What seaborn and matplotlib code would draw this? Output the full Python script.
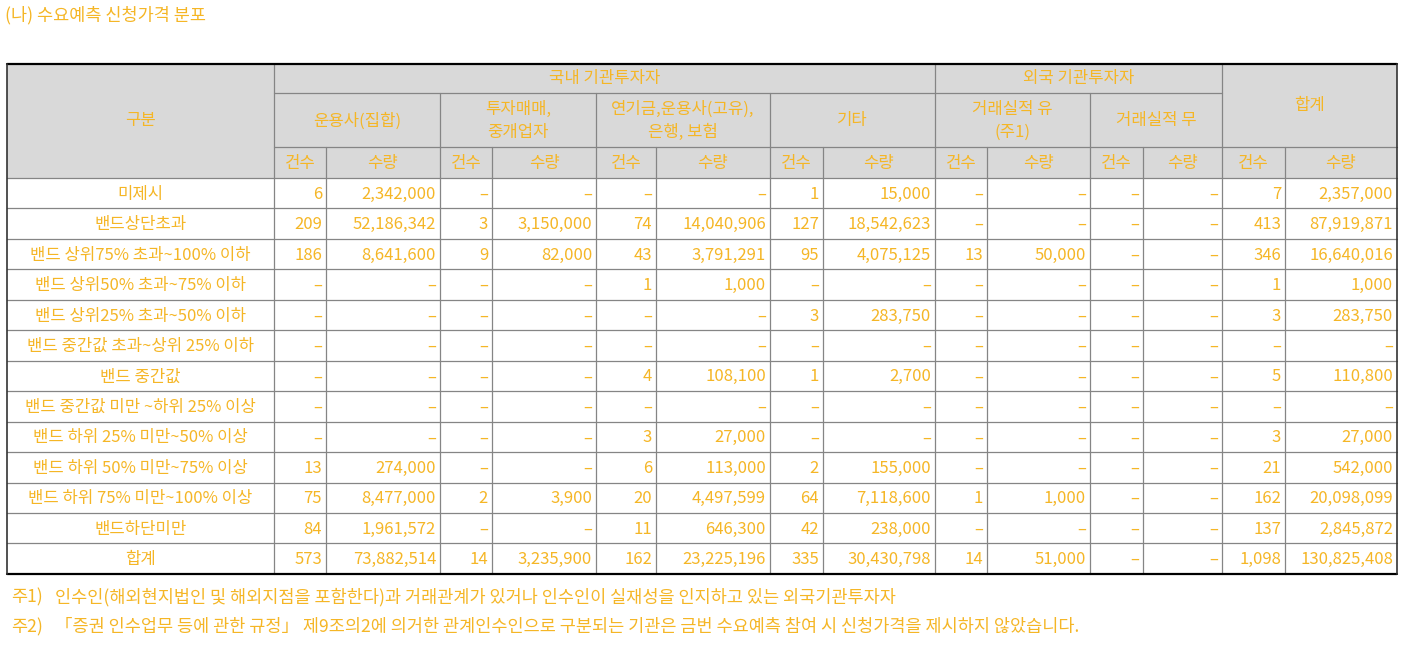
import matplotlib
matplotlib.use("Agg")
import matplotlib.pyplot as plt
import seaborn as sns
from matplotlib.patches import Rectangle

sns.set_style("white")
plt.rcParams["font.family"] = ["Noto Sans CJK KR", "DejaVu Sans"]

# ---- data ----
title = "(나) 수요예측 신청가격 분포"
row_labels = ["미제시", "밴드상단초과", "밴드 상위75% 초과~100% 이하", "밴드 상위50% 초과~75% 이하",
              "밴드 상위25% 초과~50% 이하", "밴드 중간값 초과~상위 25% 이하", "밴드 중간값",
              "밴드 중간값 미만 ~하위 25% 이상", "밴드 하위 25% 미만~50% 이상",
              "밴드 하위 50% 미만~75% 이상", "밴드 하위 75% 미만~100% 이상", "밴드하단미만", "합계"]
group_labels = ["국내 기관투자자", "외국 기관투자자", "합계"]
sub_labels = ["운용사(집합)", "투자매매,\n중개업자", "연기금,운용사(고유),\n은행, 보험", "기타",
              "거래실적 유\n(주1)", "거래실적 무"]
measure_labels = ["건수", "수량"]
corner_label = "구분"

amc_cnt = [6, 209, 186, None, None, None, None, None, None, 13, 75, 84, 573]
amc_qty = [2342000, 52186342, 8641600, None, None, None, None, None, None, 274000, 8477000, 1961572, 73882514]
broker_cnt = [None, 3, 9, None, None, None, None, None, None, None, 2, None, 14]
broker_qty = [None, 3150000, 82000, None, None, None, None, None, None, None, 3900, None, 3235900]
pension_cnt = [None, 74, 43, 1, None, None, 4, None, 3, 6, 20, 11, 162]
pension_qty = [None, 14040906, 3791291, 1000, None, None, 108100, None, 27000, 113000, 4497599, 646300, 23225196]
other_cnt = [1, 127, 95, None, 3, None, 1, None, None, 2, 64, 42, 335]
other_qty = [15000, 18542623, 4075125, None, 283750, None, 2700, None, None, 155000, 7118600, 238000, 30430798]
frn_yes_cnt = [None, None, 13, None, None, None, None, None, None, None, 1, None, 14]
frn_yes_qty = [None, None, 50000, None, None, None, None, None, None, None, 1000, None, 51000]
frn_no_cnt = [None, None, None, None, None, None, None, None, None, None, None, None, None]
frn_no_qty = [None, None, None, None, None, None, None, None, None, None, None, None, None]
total_cnt = [7, 413, 346, 1, 3, None, 5, None, 3, 21, 162, 137, 1098]
total_qty = [2357000, 87919871, 16640016, 1000, 283750, None, 110800, None, 27000, 542000, 20098099, 2845872, 130825408]

note_marks = ["주1)", "주2)"]
note_texts = ["인수인(해외현지법인 및 해외지점을 포함한다)과 거래관계가 있거나 인수인이 실재성을 인지하고 있는 외국기관투자자",
              "「증권 인수업무 등에 관한 규정」 제9조의2에 의거한 관계인수인으로 구분되는 기관은 금번 수요예측 참여 시 신청가격을 제시하지 않았습니다."]

columns = [amc_cnt, amc_qty, broker_cnt, broker_qty, pension_cnt, pension_qty, other_cnt, other_qty,
           frn_yes_cnt, frn_yes_qty, frn_no_cnt, frn_no_qty, total_cnt, total_qty]

# ---- layout (pixels) ----
W, H = 1406, 663
xs = [7, 274, 326, 440, 492, 596, 656, 770, 823, 935, 987, 1090, 1143, 1222, 1285, 1397]
hy = [64, 93, 147, 178]
row_h = 30.45
ys = [hy[3] + i * row_h for i in range(len(row_labels) + 1)]
bottom = ys[-1]

txt_color = "#F5B626"
grid_color = "#858585"
head_bg = "#D9D9D9"
fs = 12
fs_note = 12.6

fig = plt.figure(figsize=(W / 100, H / 100), dpi=100)
ax = fig.add_axes([0, 0, 1, 1])
ax.set_xlim(0, W)
ax.set_ylim(H, 0)
ax.axis("off")

def txt(x, y, s, ha="center", size=fs, **kw):
    ax.text(x, y, s, ha=ha, va="center", color=txt_color, fontsize=size, **kw)

# title
txt(5, 15, title, ha="left", size=fs_note)

# header background
ax.add_patch(Rectangle((xs[0], hy[0]), xs[-1] - xs[0], hy[3] - hy[0], color=head_bg, lw=0))

lw = 0.9
# horizontal grid lines
ax.plot([xs[1], xs[13]], [hy[1], hy[1]], color=grid_color, lw=lw)
ax.plot([xs[1], xs[-1]], [hy[2], hy[2]], color=grid_color, lw=lw)
for y in ys[:-1]:
    ax.plot([xs[0], xs[-1]], [y, y], color=grid_color, lw=lw)
# vertical grid lines
for i in [1, 9, 13]:
    ax.plot([xs[i], xs[i]], [hy[0], bottom], color=grid_color, lw=lw)
for i in [3, 5, 7, 11]:
    ax.plot([xs[i], xs[i]], [hy[1], bottom], color=grid_color, lw=lw)
for i in [2, 4, 6, 8, 10, 12, 14]:
    ax.plot([xs[i], xs[i]], [hy[2], bottom], color=grid_color, lw=lw)
# outer border
ax.plot([xs[0], xs[-1]], [hy[0], hy[0]], color="black", lw=1.6)
ax.plot([xs[0], xs[-1]], [bottom, bottom], color="black", lw=1.6)
ax.plot([xs[0], xs[0]], [hy[0], bottom], color="#333333", lw=1.2)
ax.plot([xs[-1], xs[-1]], [hy[0], bottom], color="#333333", lw=1.2)

# header texts
txt((xs[0] + xs[1]) / 2, (hy[0] + hy[3]) / 2, corner_label)
txt((xs[1] + xs[9]) / 2, (hy[0] + hy[1]) / 2, group_labels[0])
txt((xs[9] + xs[13]) / 2, (hy[0] + hy[1]) / 2, group_labels[1])
txt((xs[13] + xs[15]) / 2, (hy[0] + hy[2]) / 2, group_labels[2])
for k, lab in enumerate(sub_labels):
    x0, x1 = xs[1 + 2 * k], xs[3 + 2 * k]
    txt((x0 + x1) / 2, (hy[1] + hy[2]) / 2 + 1, lab, linespacing=1.45)
for c in range(14):
    txt((xs[1 + c] + xs[2 + c]) / 2, (hy[2] + hy[3]) / 2 + 1, measure_labels[c % 2])

# body
for r, lab in enumerate(row_labels):
    yc = (ys[r] + ys[r + 1]) / 2 + 1
    txt((xs[0] + xs[1]) / 2, yc, lab)
    for c, col in enumerate(columns):
        v = col[r]
        s = "–" if v is None else f"{v:,}"
        txt(xs[2 + c] - 4, yc, s, ha="right")

# notes
for k, (m, t) in enumerate(zip(note_marks, note_texts)):
    y = 597 + 30 * k
    txt(11, y, m, ha="left", size=fs_note)
    txt(55, y, t, ha="left", size=fs_note)

fig.savefig("out.png", dpi=100, facecolor="white")
